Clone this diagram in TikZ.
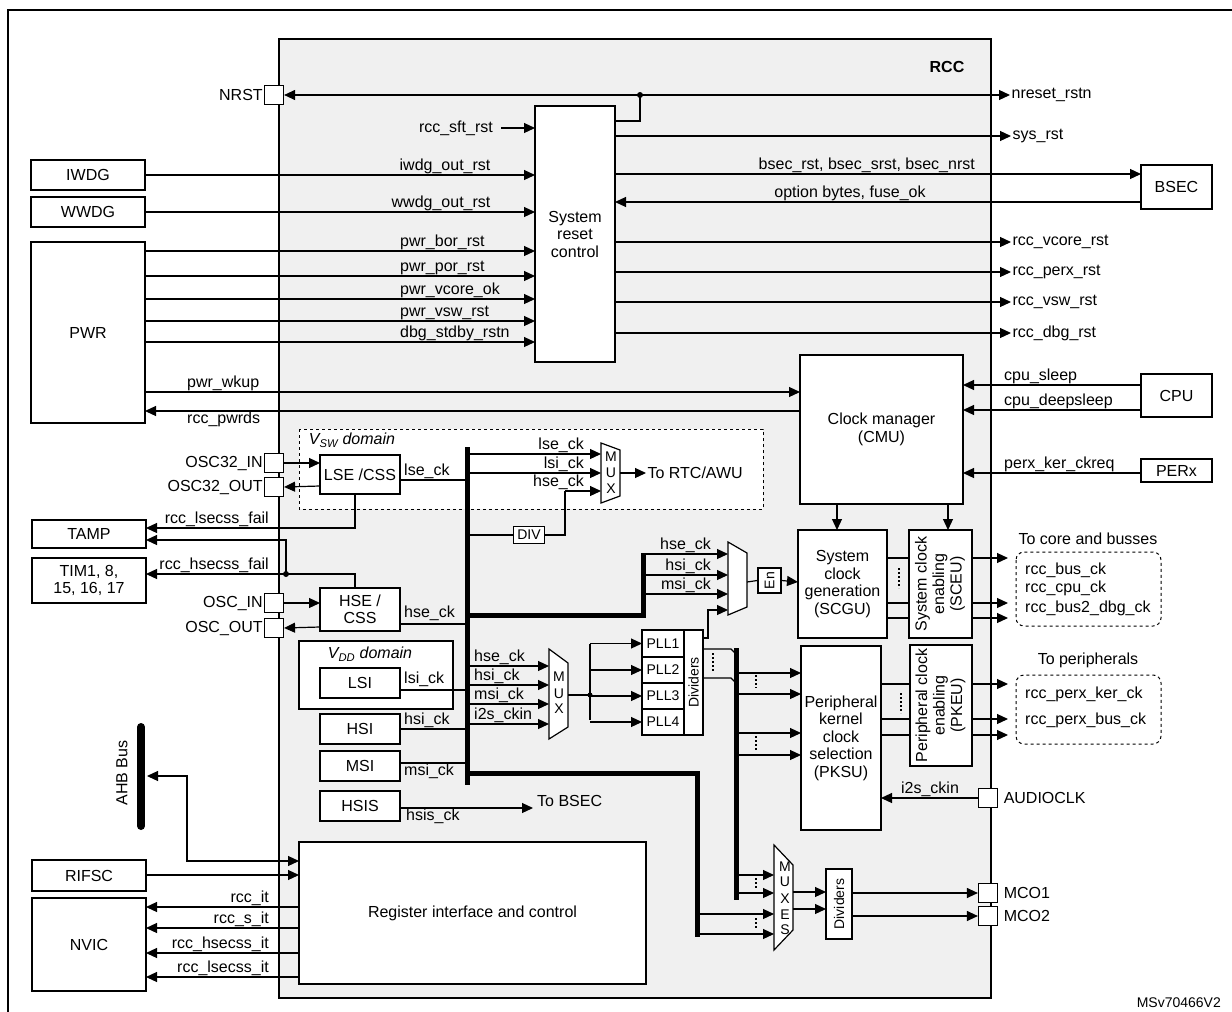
\documentclass[tikz,border=0pt]{standalone}
\usepackage{fontspec}
\setmainfont{Liberation Sans}
\usetikzlibrary{arrows.meta}
\newcommand\fs{\fontsize{16}{17.5}\selectfont}
\newcommand\fsm{\fontsize{14}{15}\selectfont}
\newcommand\bx[6]{\node[box,minimum width=#4-#2,minimum height=#5-#3] (#1) at ({(#2+#4)/2},{(#3+#5)/2}) {#6};}
\begin{document}
\begin{tikzpicture}[x=1pt,y=-1pt,
 box/.style={draw,fill=white,inner sep=0,align=center,line width=1.2pt,font=\fs},
 sig/.style={line width=1.2pt},
 arr/.style={sig,-{Triangle[length=11pt,width=10pt]}},
 barr/.style={sig,{Triangle[length=11pt,width=10pt]}-{Triangle[length=11pt,width=10pt]}},
 bus/.style={line width=5pt},
 lab/.style={font=\fs,inner sep=1pt},
 labs/.style={font=\fsm,inner sep=1pt},
 pad/.style={draw,fill=white,line width=1.2pt,minimum size=19pt,inner sep=0},
 dots/.style={line width=1.6pt,dash pattern=on 2pt off 2pt},
 mux/.style={draw,fill=white,line width=1.2pt}]
\useasboundingbox (0,0) rectangle (1232,1012);
\draw[line width=1.5pt] (8,10) rectangle (1245,1030);
% RCC
\draw[line width=2pt,fill=black!6] (279,39) rectangle (991,998);
\node[font=\fs\bfseries] at (947,67) {RCC};
% ---------- reset ----------
\bx{src}{535}{106}{615}{362}{System\\reset\\control}
\node[pad] (nrst) at (274,95) {};
\node[lab,anchor=east] at (nrst.west) {NRST~};
\coordinate (d1) at (640,95);
\fill (d1) circle (3);
\draw[arr] (d1) -- (1010,95) node[lab,right]{nreset\_rstn};
\draw[arr] (d1) -- (nrst.east);
\draw[sig] (615,121) -- (640,121) -- (d1);
\draw[arr] (501,128) -- (535,128);
\node[lab,anchor=east] at (494,128) {rcc\_sft\_rst};
\bx{iwdg}{31}{160}{145}{190}{IWDG}
\bx{wwdg}{31}{197}{145}{227}{WWDG}
\bx{pwr}{31}{242}{145}{423}{PWR}
\draw[arr] (iwdg.east) -- (535,175) node[lab,pos=1,anchor=south east,xshift=-43pt]{iwdg\_out\_rst};
\draw[arr] (wwdg.east) -- (535,212) node[lab,pos=1,anchor=south east,xshift=-43pt]{wwdg\_out\_rst};
\foreach \y/\t in {251/pwr\_bor\_rst,276/pwr\_por\_rst,299/pwr\_vcore\_ok,321/pwr\_vsw\_rst,342/dbg\_stdby\_rstn}{
 \draw[arr] (145,\y) -- (535,\y);
 \node[lab,anchor=south west] at (399,\y) {\t};}
\foreach \y/\t in {136/sys\_rst,242/rcc\_vcore\_rst,272/rcc\_perx\_rst,302/rcc\_vsw\_rst,333/rcc\_dbg\_rst}{
 \draw[arr] (615,\y) -- (1011,\y) node[lab,right]{\t};}
\bx{bsec}{1141}{165}{1212}{209}{BSEC}
\draw[arr] (615,174) -- (1141,174);
\node[lab,anchor=south east] at (976,174) {bsec\_rst, bsec\_srst, bsec\_nrst};
\draw[arr] (1141,202) -- (615,202);
\node[lab,anchor=south] at (850,202) {option bytes, fuse\_ok};
% ---------- CMU ----------
\bx{cmu}{800}{355}{963}{504}{Clock manager\\(CMU)}
\draw[arr] (145,392) -- (800,392);
\node[lab,anchor=south west] at (186,392) {pwr\_wkup};
\draw[arr] (800,411) -- (145,411);
\node[lab,anchor=north west] at (186,411) {rcc\_pwrds};
\bx{cpu}{1141}{374}{1212}{417}{CPU}
\bx{perx}{1141}{459}{1212}{482}{PERx}
\draw[arr] (1141,385) -- (963,385); \node[lab,anchor=south west] at (1003,385) {cpu\_sleep};
\draw[arr] (1141,410) -- (963,410); \node[lab,anchor=south west] at (1003,410) {cpu\_deepsleep};
\draw[arr] (1141,473) -- (963,473); \node[lab,anchor=south west] at (1003,473) {perx\_ker\_ckreq};
% ---------- VSW domain ----------
\draw[line width=1pt,dashed,fill=white] (299,429) rectangle (763,509);
\node[lab,font=\fs\itshape] at (352,440) {V\textsubscript{SW} domain};
\node[pad] (o32i) at (274,463) {};
\node[pad] (o32o) at (274,487) {};
\node[lab,anchor=east] at (o32i.west) {OSC32\_IN~};
\node[lab,anchor=east] at (o32o.west) {OSC32\_OUT~};
\bx{lse}{320}{455}{400}{494}{LSE /CSS}
\draw[arr] (o32i.east) -- (320,463);
\draw[arr] (320,486) -- (o32o.east);
\draw[sig] (400,480) -- (467,480);
\node[lab,anchor=south west] at (403,480) {lse\_ck};
\draw[mux] (601,443) -- (620,450) -- (620,496) -- (601,503) -- cycle;
\node[labs] at (611,457) {M}; \node[labs] at (611,473) {U}; \node[labs] at (611,489) {X};
\draw[arr] (467,454) -- (601,454); \node[lab,anchor=south east] at (585,454) {lse\_ck};
\draw[arr] (467,473) -- (601,473); \node[lab,anchor=south east] at (585,473) {lsi\_ck};
\draw[arr] (565,491) -- (601,491); \node[lab,anchor=south east] at (585,491) {hse\_ck};
\draw[arr] (620,473) -- (646,473) node[lab,right]{To RTC/AWU};
\node[box,line width=1.8pt,minimum width=31,minimum height=17,font=\fsm] (div) at (529,535) {DIV};
\draw[sig] (467,535) -- (div.west);
\draw[sig] (div.east) -- (565,535) -- (565,491);
% TAMP / TIM
\bx{tamp}{32}{520}{146}{548}{TAMP}
\bx{tim}{32}{558}{146}{603}{TIM1, 8,\\15, 16, 17}
\draw[arr] (355,494) -- (355,528) -- (146,528);
\node[lab,anchor=south east] at (270,528) {rcc\_lsecss\_fail};
\coordinate (d2) at (286,574);
\fill (d2) circle (3);
\draw[arr] (d2) -- (286,540) -- (146,540);
\draw[arr] (355,588) -- (355,574) -- (146,574);
\node[lab,anchor=south east] at (270,574) {rcc\_hsecss\_fail};
% HSE
\node[pad] (oi) at (274,603) {};
\node[pad] (oo) at (274,628) {};
\node[lab,anchor=east] at (oi.west) {OSC\_IN~};
\node[lab,anchor=east] at (oo.west) {OSC\_OUT~};
\bx{hse}{320}{588}{400}{631}{HSE /\\CSS}
\draw[arr] (oi.east) -- (320,603);
\draw[arr] (320,627) -- (oo.east);
\draw[sig] (400,624) -- (467,624);
\node[lab,anchor=south west] at (403,622) {hse\_ck};
% VDD
\draw[line width=1.2pt,fill=white] (299,641) rectangle (453,709);
\node[lab,font=\fs\itshape] at (370,654) {V\textsubscript{DD} domain};
\bx{lsi}{320}{668}{400}{698}{LSI}
\bx{hsi}{320}{714}{400}{744}{HSI}
\bx{msi}{320}{751}{400}{781}{MSI}
\bx{hsis}{320}{791}{400}{821}{HSIS}
\draw[sig] (400,690) -- (467,690); \node[lab,anchor=south west] at (403,688) {lsi\_ck};
\draw[sig] (400,729) -- (467,729); \node[lab,anchor=south west] at (403,729) {hsi\_ck};
\draw[sig] (400,763) -- (467,763); \node[lab,anchor=north west] at (403,763) {msi\_ck};
\draw[arr] (400,808) -- (533,808); \node[lab,anchor=north west] at (405,808) {hsis\_ck};
\node[lab,anchor=south west] at (536,808) {To BSEC};
% buses
\draw[bus] (467,447) -- (467,785);
\draw[bus] (467,615) -- (643,615) -- (643,553);
\draw[bus] (467,773) -- (697,773) -- (697,937);
\draw[bus] (736,648) -- (736,900);
% mux1
\draw[mux] (549,649) -- (568,663) -- (568,727) -- (549,739) -- cycle;
\node[labs] at (559,677) {M}; \node[labs] at (559,694) {U}; \node[labs] at (559,709) {X};
\foreach \y/\t in {666/hse\_ck,685/hsi\_ck,704/msi\_ck,724/i2s\_ckin}{
 \draw[arr] (467,\y) -- (549,\y); \node[lab,anchor=south west] at (473,\y) {\t};}
\coordinate (d3) at (590,695);
\draw[sig] (568,695) -- (d3);
\fill (d3) circle (2.5);
\draw[sig] (590,644) -- (590,720);
% PLLs
\foreach \i/\a/\b in {1/630/657,2/657/683,3/683/709,4/709/735}{
 \bx{pll\i}{642}{\a}{684}{\b}{\fsm PLL\i}
 \draw[arr] (590,{(\a+\b)/2}) -- (642,{(\a+\b)/2});}
\node[box,minimum width=19,minimum height=105,font=\fsm] (dv1) at (693.5,682.5) {\rotatebox{90}{Dividers}};
\draw[sig] (703,649) -- (731,649) -- (736,654);
\draw[sig] (703,678) -- (731,678) -- (736,683);
\draw[dots] (713,653) -- (713,672);
\draw[arr] (703,638) -- (708,638) -- (708,610) -- (728,610);
% mux2
\draw[mux] (728,542) -- (747,553) -- (747,607) -- (728,615) -- cycle;
\foreach \y/\t in {554/hse\_ck,575/hsi\_ck,594/msi\_ck}{
 \draw[arr] (643,\y) -- (728,\y); \node[lab,anchor=south east] at (712,\y) {\t};}
\node[box,minimum width=23,minimum height=25,font=\fsm] (en) at (769.5,580.5) {\rotatebox{90}{En}};
\draw[sig] (747,582) -- (en.west);
\draw[arr] (en.east) -- (798,582);
% SCGU/SCEU
\bx{scgu}{798}{530}{887}{638}{System\\clock\\generation\\(SCGU)}
\bx{sceu}{909}{530}{972}{638}{\rotatebox{90}{\begin{tabular}{@{}c@{}}System clock\\enabling\\(SCEU)\end{tabular}}}
\draw[arr] (837,504) -- (837,530);
\draw[arr] (948,504) -- (948,530);
\foreach \y in {558,603,618}{\draw[sig] (887,\y) -- (909,\y); \draw[arr] (972,\y) -- (1008,\y);}
\draw[dots] (899,568) -- (899,588);
\draw[line width=1pt,dashed,rounded corners=8pt] (1016,552) rectangle (1161,626);
\node[lab] at (1088,539) {To core and busses};
\node[lab,anchor=west] at (1024,570) {rcc\_bus\_ck};
\node[lab,anchor=west] at (1024,588) {rcc\_cpu\_ck};
\node[lab,anchor=west] at (1024,608) {rcc\_bus2\_dbg\_ck};
% PKSU/PKEU
\bx{pksu}{801}{646}{881}{830}{Peripheral\\kernel\\clock\\selection\\(PKSU)}
\bx{pkeu}{910}{645}{972}{766}{\rotatebox{90}{\begin{tabular}{@{}c@{}}Peripheral clock\\enabling\\(PKEU)\end{tabular}}}
\foreach \y in {673,694,733,755}{\draw[arr] (736,\y) -- (801,\y);}
\draw[dots] (756,675) -- (756,688);
\draw[dots] (756,736) -- (756,750);
\foreach \y in {684,719,735}{\draw[sig] (881,\y) -- (910,\y); \draw[arr] (972,\y) -- (1008,\y);}
\draw[dots] (901,693) -- (901,713);
\draw[line width=1pt,dashed,rounded corners=8pt] (1016,675) rectangle (1161,744);
\node[lab] at (1088,660) {To peripherals};
\node[lab,anchor=west] at (1024,694) {rcc\_perx\_ker\_ck};
\node[lab,anchor=west] at (1024,720) {rcc\_perx\_bus\_ck};
\node[pad] (aud) at (988,798) {};
\node[lab,anchor=west] at (aud.east) {~AUDIOCLK};
\draw[arr] (aud.west) -- (881,798);
\node[lab,anchor=south] at (930,798) {i2s\_ckin};
% MUXES
\draw[mux] (774,845) -- (793,865) -- (793,930) -- (774,950) -- cycle;
\foreach \y/\t in {867/M,882/U,899/X,915/E,930/S}{\node[labs] at (785,\y) {\t};}
\draw[arr] (736,875) -- (774,875);
\draw[arr] (736,893) -- (774,893);
\draw[arr] (697,914) -- (774,914);
\draw[arr] (697,934) -- (774,934);
\draw[dots] (756,878) -- (756,889);
\draw[dots] (756,918) -- (756,929);
\node[box,minimum width=26,minimum height=70,font=\fsm] (dv2) at (839,904) {\rotatebox{90}{Dividers}};
\draw[arr] (793,892) -- (826,892);
\draw[arr] (793,909) -- (826,909);
\node[pad] (mco1) at (988,893) {};
\node[pad] (mco2) at (988,916) {};
\node[lab,anchor=west] at (mco1.east) {~MCO1};
\node[lab,anchor=west] at (mco2.east) {~MCO2};
\draw[arr] (852,893) -- (mco1.west);
\draw[arr] (852,916) -- (mco2.west);
% register interface
\bx{reg}{299}{842}{646}{984}{Register interface and control}
\draw[line width=8pt,line cap=round] (141,727) -- (141,826);
\node[lab,rotate=90] at (122,773) {AHB Bus};
\draw[barr] (147,776) -- (187,776) -- (187,861) -- (299,861);
\bx{rifsc}{32}{860}{146}{891}{RIFSC}
\draw[arr] (rifsc.east|-0,875) -- (299,875);
\bx{nvic}{32}{898}{146}{991}{NVIC}
\foreach \y/\t in {907/rcc\_it,928/rcc\_s\_it,953/rcc\_hsecss\_it,977/rcc\_lsecss\_it}{
 \draw[arr] (299,\y) -- (146,\y); \node[lab,anchor=south east] at (270,\y) {\t};}
\node[labs,anchor=east] at (1222,1003) {MSv70466V2};
\end{tikzpicture}
\end{document}
